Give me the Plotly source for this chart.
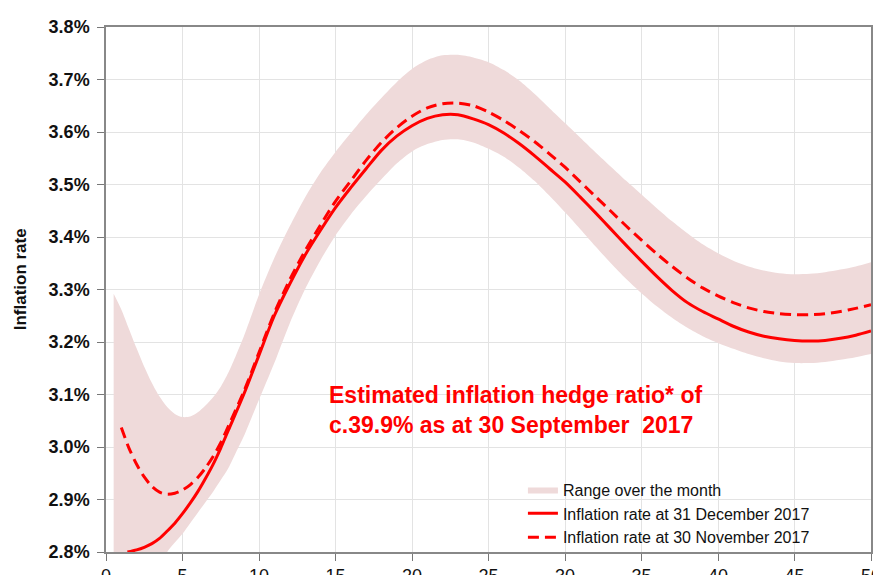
import plotly.graph_objects as go

# ---- data ----
band_x = [0.5, 1, 1.5, 2, 2.5, 3, 3.5, 4, 4.5, 5, 5.5, 6, 6.5, 7, 7.5, 8, 8.5, 9, 9.5,
          10, 11, 12, 13, 14, 15, 16, 17, 18, 19, 20, 21, 22, 23, 24, 25, 26, 27, 28, 29,
          30, 31, 32, 33, 34, 35, 36, 37, 38, 39, 40, 41, 42, 43, 44, 45, 46, 47, 48, 49, 50]
band_upper = [3.292, 3.262, 3.225, 3.188, 3.153, 3.122, 3.096, 3.076, 3.063, 3.057, 3.058,
              3.066, 3.079, 3.095, 3.115, 3.142, 3.175, 3.210, 3.250,
              3.290, 3.360, 3.420, 3.475, 3.522, 3.562, 3.598, 3.633, 3.665, 3.695, 3.720,
              3.737, 3.746, 3.747, 3.742, 3.733, 3.718, 3.698, 3.673, 3.645,
              3.617, 3.589, 3.561, 3.534, 3.507, 3.481, 3.455, 3.430, 3.407, 3.386,
              3.369, 3.355, 3.344, 3.336, 3.331, 3.329, 3.330, 3.333, 3.338, 3.344, 3.352]
band_lower = [2.600, 2.620, 2.640, 2.660, 2.690, 2.720, 2.760, 2.800, 2.818, 2.835, 2.855,
              2.875, 2.895, 2.915, 2.937, 2.960, 2.990, 3.020, 3.055,
              3.090, 3.160, 3.235, 3.300, 3.355, 3.403, 3.443, 3.478, 3.510, 3.540, 3.563,
              3.577, 3.585, 3.586, 3.580, 3.568, 3.553, 3.532, 3.507, 3.478,
              3.447, 3.415, 3.382, 3.350, 3.320, 3.293, 3.268, 3.246, 3.227, 3.211,
              3.198, 3.187, 3.177, 3.169, 3.163, 3.160, 3.160, 3.162, 3.166, 3.171, 3.177]

dec_x = [1.4, 2, 2.5, 3, 3.5, 4, 4.5, 5, 5.5, 6, 6.5, 7, 7.5, 8, 9, 10, 11, 12, 13, 14,
         15, 16, 17, 18, 19, 20, 21, 22, 23, 24, 25, 26, 27, 28, 29, 30, 31, 32, 33, 34,
         35, 36, 37, 38, 39, 40, 41, 42, 43, 44, 45, 46, 47, 48, 49, 50]
dec_rate = [2.800, 2.804, 2.809, 2.816, 2.826, 2.840, 2.855, 2.873, 2.893, 2.915, 2.940,
            2.967, 2.998, 3.032, 3.100, 3.175, 3.250, 3.310, 3.365, 3.412,
            3.456, 3.494, 3.530, 3.565, 3.592, 3.612, 3.626, 3.633, 3.633, 3.625,
            3.614, 3.598, 3.578, 3.555, 3.530, 3.505, 3.476, 3.446, 3.415, 3.384,
            3.354, 3.325, 3.298, 3.275, 3.258, 3.244, 3.230, 3.219, 3.211, 3.206,
            3.203, 3.202, 3.203, 3.207, 3.213, 3.221]

nov_x = [1, 1.5, 2, 2.5, 3, 3.5, 4, 4.5, 5, 5.5, 6, 6.5, 7, 7.5, 8, 9, 10, 11, 12, 13, 14,
         15, 16, 17, 18, 19, 20, 21, 22, 23, 24, 25, 26, 27, 28, 29, 30, 31, 32, 33, 34,
         35, 36, 37, 38, 39, 40, 41, 42, 43, 44, 45, 46, 47, 48, 49, 50]
nov_rate = [3.037, 2.998, 2.967, 2.943, 2.925, 2.914, 2.910, 2.912, 2.918, 2.928, 2.942,
            2.960, 2.982, 3.008, 3.040, 3.105, 3.180, 3.255, 3.318, 3.373, 3.422,
            3.468, 3.507, 3.546, 3.580, 3.608, 3.630, 3.646, 3.654, 3.655, 3.650,
            3.638, 3.622, 3.603, 3.582, 3.558, 3.533, 3.505, 3.477, 3.449, 3.421,
            3.394, 3.368, 3.344, 3.322, 3.303, 3.288, 3.275, 3.265, 3.258, 3.254,
            3.252, 3.252, 3.254, 3.258, 3.264, 3.271]

x_ticks = [0, 5, 10, 15, 20, 25, 30, 35, 40, 45, 50]
y_ticks = [2.8, 2.9, 3.0, 3.1, 3.2, 3.3, 3.4, 3.5, 3.6, 3.7, 3.8]
y_tick_labels = ["2.8%", "2.9%", "3.0%", "3.1%", "3.2%", "3.3%", "3.4%", "3.5%", "3.6%", "3.7%", "3.8%"]

y_title = "Inflation rate"
legend_names = ["Range over the month", "Inflation rate at 31 December 2017",
                "Inflation rate at 30 November 2017"]
note_lines = ["Estimated inflation hedge ratio* of", "c.39.9% as at 30 September\u00a0 2017"]

FONT = "Arial, 'Liberation Sans', sans-serif"
RED = "#ff0000"
PINK = "#efdada"

fig = go.Figure()
fig.add_trace(go.Scatter(x=band_x, y=band_lower, mode="lines",
                         line=dict(width=0, color=PINK, shape="spline", smoothing=0.8),
                         showlegend=False, hoverinfo="skip"))
fig.add_trace(go.Scatter(x=band_x, y=band_upper, mode="lines",
                         line=dict(width=0, color=PINK, shape="spline", smoothing=0.8),
                         fill="tonexty", fillcolor=PINK, name=legend_names[0]))
fig.add_trace(go.Scatter(x=dec_x, y=dec_rate, mode="lines",
                         line=dict(color=RED, width=3, shape="spline", smoothing=0.8),
                         name=legend_names[1]))
fig.add_trace(go.Scatter(x=nov_x, y=nov_rate, mode="lines",
                         line=dict(color=RED, width=3, dash="11px,6px", shape="spline", smoothing=0.8),
                         name=legend_names[2]))

fig.add_annotation(x=14.45, y=3.07, xref="x", yref="y", xanchor="left", yanchor="middle",
                   align="left", showarrow=False,
                   text="<b>" + note_lines[0] + "<br>" + note_lines[1] + "</b>",
                   font=dict(family=FONT, size=23, color=RED))

# y-axis title placed as a rotated annotation
fig.add_annotation(x=-0.112, y=0.52, xref="paper", yref="paper", xanchor="center",
                   yanchor="middle", showarrow=False, textangle=-90,
                   text="<b>" + y_title + "</b>",
                   font=dict(family=FONT, size=17, color="#111"))

# the page body adds an 8px offset, so the figure is sized to the remaining window
fig.update_layout(
    width=873, height=567,
    margin=dict(l=98, r=10, t=19, b=23),
    paper_bgcolor="white", plot_bgcolor="white",
    font=dict(family=FONT, color="#1a1a1a"),
    legend=dict(x=0.545, y=-0.005, xanchor="left", yanchor="bottom", traceorder="normal",
                bgcolor="rgba(255,255,255,0)", font=dict(size=16, family=FONT, color="#111"),
                tracegroupgap=0, itemwidth=30),
)
fig.update_xaxes(range=[0, 50], tickvals=x_ticks, ticks="outside", ticklen=7,
                 tickcolor="#777", showgrid=True, gridcolor="#e3e3e3", gridwidth=1,
                 showline=True, linecolor="#888", linewidth=1.5, mirror=True,
                 zeroline=False, automargin=False, ticklabelstandoff=0,
                 ticklabeloverflow="allow",
                 tickfont=dict(size=18, family=FONT, color="#111"),
                 tickprefix="<b>", ticksuffix="</b>")
fig.update_yaxes(range=[2.8, 3.8], tickvals=y_ticks, ticktext=["<b>" + t + "</b>" for t in y_tick_labels],
                 ticks="outside", ticklen=7, tickcolor="#777", showgrid=True,
                 gridcolor="#e3e3e3", gridwidth=1, showline=True, linecolor="#888",
                 linewidth=1.5, mirror=True, zeroline=False, automargin=False,
                 ticklabelstandoff=4,
                 tickfont=dict(size=18, family=FONT, color="#111"))

fig.write_html("out.html")
